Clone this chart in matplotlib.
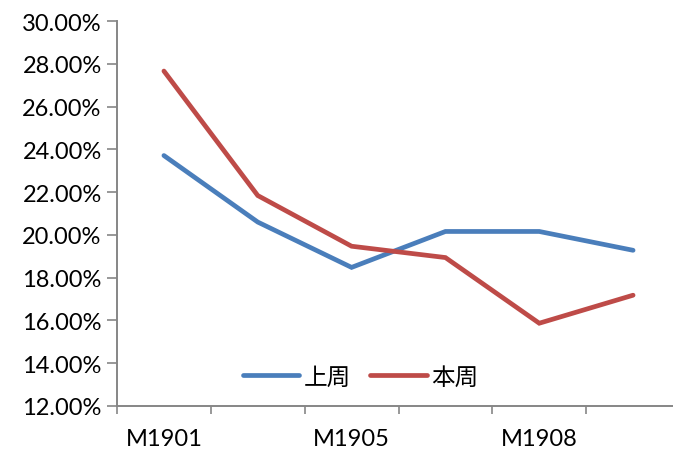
import matplotlib
matplotlib.use("Agg")
import matplotlib.pyplot as plt
from matplotlib.ticker import FuncFormatter, MultipleLocator

# Data
categories = ["M1901", "M1903", "M1905", "M1907", "M1908", "M1909"]
shown_labels = ["M1901", "", "M1905", "", "M1908", ""]
last_week = [23.71, 20.60, 18.48, 20.16, 20.16, 19.28]   # 上周
this_week = [27.66, 21.84, 19.47, 18.94, 15.87, 17.18]   # 本周
series_names = ["上周", "本周"]

blue = "#4A7EBB"
red = "#BE4B48"
axis_gray = "#868686"

plt.rcParams['font.family'] = ['Lato', 'DejaVu Sans']

fig = plt.figure(figsize=(6.73, 4.52), dpi=100)
ax = fig.add_axes([117 / 673, 45 / 452, 563 / 673, 385 / 452])

x = list(range(len(categories)))
ax.plot(x, last_week, color=blue, lw=3.4, solid_capstyle='round',
        solid_joinstyle='miter', label=series_names[0])
ax.plot(x, this_week, color=red, lw=3.4, solid_capstyle='round',
        solid_joinstyle='miter', label=series_names[1])

ax.set_xlim(-0.5, len(categories) - 0.5)
ax.set_ylim(12, 30)
ax.yaxis.set_major_locator(MultipleLocator(2))
ax.yaxis.set_major_formatter(FuncFormatter(lambda v, p: f"{v:.2f}%"))

# Category labels centred on points, tick marks between categories
ax.set_xticks(x)
ax.set_xticklabels(shown_labels)
ax.tick_params(axis='x', which='major', length=0, pad=16, labelsize=17, colors='black')
ax.set_xticks([i - 0.5 for i in range(len(categories) + 1)], minor=True)
ax.tick_params(axis='x', which='minor', length=6, width=1.2, color=axis_gray, direction='out')
ax.tick_params(axis='y', which='major', length=7, width=1.2, color=axis_gray,
               direction='out', labelsize=17, pad=4)

for side in ['top', 'right']:
    ax.spines[side].set_visible(False)
for side in ['left', 'bottom']:
    ax.spines[side].set_color(axis_gray)
    ax.spines[side].set_linewidth(1.4)

leg = ax.legend(loc='center', bbox_to_anchor=(0.433, 0.075), ncol=2, frameon=False,
                prop={'family': ['Noto Sans CJK SC', 'DejaVu Sans'], 'size': 17},
                handlelength=2.4, handletextpad=0.2, columnspacing=0.8)

fig.savefig("out.png", dpi=100)
